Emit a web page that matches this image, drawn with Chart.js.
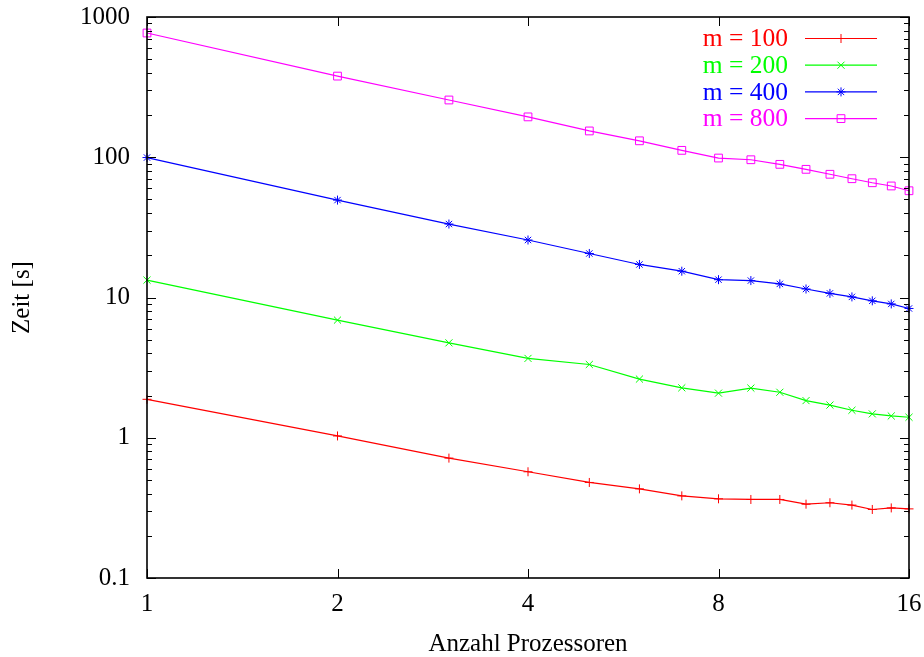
<!DOCTYPE html>
<html>
<head>
<meta charset="utf-8">
<script src="https://cdn.jsdelivr.net/npm/chart.js@4/dist/chart.umd.min.js"></script>
<style>
html,body{margin:0;padding:0;background:#fff;}
#wrap{width:924px;height:657px;}
</style>
</head>
<body>
<div id="wrap"><canvas id="c" width="924" height="657"></canvas></div>
<script>
// ---- data ----
const procs = [1,2,3,4,5,6,7,8,9,10,11,12,13,14,15,16];
const m100 = [1.88,1.03,0.716,0.572,0.480,0.432,0.385,0.367,0.363,0.363,0.336,0.344,0.331,0.308,0.316,0.311];
const m200 = [13.3,6.9,4.75,3.68,3.33,2.62,2.27,2.08,2.26,2.11,1.84,1.71,1.57,1.48,1.43,1.40];
const m400 = [99.5,49.5,33.4,25.7,20.6,17.2,15.4,13.4,13.2,12.5,11.5,10.7,10.1,9.47,9.0,8.35];
const m800 = [769,379,256,194,154,131,112,98.7,96,89,82,75.6,70.3,65.8,62.4,57.7];
const seriesLabels = ['m = 100','m = 200','m = 400','m = 800'];
const xTicks = [1,2,4,8,16];
const xTickLabels = ['1','2','4','8','16'];
const yTicks = [0.1,1,10,100,1000];
const yTickLabels = ['0.1','1','10','100','1000'];
const xTitle = 'Anzahl Prozessoren';
const yTitle = 'Zeit [s]';

const FONT = 'Liberation Serif';
const colors = ['#ff0000','#00ff00','#0000ff','#ff00ff'];
const styles = ['cross','crossRot','star','rect'];
const radii = [4.5,5,4.5,5.5];
const allSeries = [m100,m200,m400,m800];

const datasets = allSeries.map((s,i)=>({
  label: seriesLabels[i],
  data: procs.map((p,j)=>({x:p,y:s[j]})),
  borderColor: colors[i],
  backgroundColor: 'rgba(0,0,0,0)',
  pointBorderColor: colors[i],
  pointBackgroundColor: 'rgba(0,0,0,0)',
  pointStyle: styles[i],
  pointRadius: radii[i],
  pointBorderWidth: 1,
  borderWidth: 1.2,
  tension: 0,
  clip: false
}));

const framePlugin = {
  id: 'frame',
  afterDraw(chart){
    const ctx = chart.ctx, a = chart.chartArea;
    const xs = chart.scales.x, ys = chart.scales.y;
    ctx.save();
    ctx.strokeStyle = '#000';
    ctx.lineWidth = 1;
    ctx.beginPath();
    xTicks.forEach(v=>{
      const px = Math.round(xs.getPixelForValue(v))+0.5;
      ctx.moveTo(px,a.bottom); ctx.lineTo(px,a.bottom-9);
      ctx.moveTo(px,a.top); ctx.lineTo(px,a.top+9);
    });
    for (let d=0; d<yTicks.length; d++){
      const v = yTicks[d];
      const py = Math.round(ys.getPixelForValue(v))+0.5;
      ctx.moveTo(a.left,py); ctx.lineTo(a.left+9,py);
      ctx.moveTo(a.right,py); ctx.lineTo(a.right-9,py);
      if (d < yTicks.length-1){
        for (let k=2;k<=9;k++){
          const q = Math.round(ys.getPixelForValue(v*k))+0.5;
          ctx.moveTo(a.left,q); ctx.lineTo(a.left+5,q);
          ctx.moveTo(a.right,q); ctx.lineTo(a.right-5,q);
        }
      }
    }
    ctx.stroke();
    ctx.lineWidth = 1.6;
    ctx.strokeRect(a.left, a.top, a.right-a.left, a.bottom-a.top);

    // legend (gnuplot style: text then sample)
    ctx.font = '25.5px "' + FONT + '"';
    ctx.textAlign = 'right';
    ctx.textBaseline = 'middle';
    chart.data.datasets.forEach((ds,i)=>{
      const y = 38.5 + i*26.7;
      ctx.fillStyle = ds.borderColor;
      ctx.fillText(ds.label, 788, y+1);
      ctx.strokeStyle = ds.borderColor;
      ctx.lineWidth = ds.borderWidth;
      ctx.beginPath(); ctx.moveTo(805,y); ctx.lineTo(877,y); ctx.stroke();
      ctx.lineWidth = 1;
      ctx.fillStyle = 'rgba(0,0,0,0)';
      if (Chart.helpers && Chart.helpers.drawPoint){
        Chart.helpers.drawPoint(ctx,{pointStyle:ds.pointStyle,radius:ds.pointRadius,rotation:0,borderWidth:1},841,y);
      }
    });
    ctx.restore();
  }
};

new Chart(document.getElementById('c'), {
  type: 'line',
  data: { datasets },
  options: {
    responsive: false,
    animation: false,
    devicePixelRatio: 1,
    layout: { padding: { top: 17, right: 15, left: 0, bottom: 0 } },
    plugins: { legend: { display: false }, tooltip: { enabled: false } },
    scales: {
      x: {
        type: 'logarithmic',
        min: 1, max: 16,
        grid: { display: false, drawTicks: false },
        border: { display: false },
        afterBuildTicks: s => { s.ticks = xTicks.map(v=>({value:v})); },
        afterFit: s => { s.height = 657 - 578; s.paddingLeft = 0; s.paddingRight = 0; },
        ticks: {
          autoSkip: false, maxRotation: 0,
          color: '#000', padding: 11,
          font: { family: FONT, size: 25, lineHeight: 1.2 },
          callback: (v,i) => xTickLabels[i]
        },
        title: {
          display: true, text: xTitle, color: '#000',
          font: { family: FONT, size: 25, lineHeight: 1 },
          padding: { top: 0, bottom: 0 }
        }
      },
      y: {
        type: 'logarithmic',
        min: 0.1, max: 1000,
        grid: { display: false, drawTicks: false },
        border: { display: false },
        afterBuildTicks: s => { s.ticks = yTicks.map(v=>({value:v})); },
        afterFit: s => { s.width = 147; s.paddingTop = 0; s.paddingBottom = 0; },
        ticks: {
          autoSkip: false, color: '#000', padding: 17,
          font: { family: FONT, size: 25, lineHeight: 1.2 },
          callback: (v,i) => yTickLabels[i]
        },
        title: {
          display: true, text: yTitle, color: '#000',
          font: { family: FONT, size: 25, lineHeight: 1 },
          padding: { top: 10, bottom: 0 }
        }
      }
    }
  },
  plugins: [framePlugin]
});
</script>
</body>
</html>
